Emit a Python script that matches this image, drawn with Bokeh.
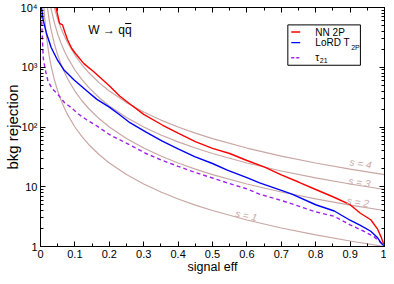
from bokeh.plotting import figure
from bokeh.models import LinearAxis, LogAxis, FixedTicker, LogTicker, CustomJSTickFormatter, NumeralTickFormatter
from bokeh.core.properties import value
from bokeh.embed import file_html
from bokeh.resources import INLINE

FONT = "Liberation Sans"

# ---- data ----
nn_eff = [0.045, 0.05, 0.055, 0.058, 0.064, 0.07, 0.078, 0.09, 0.1, 0.126, 0.154, 0.175, 0.2, 0.23,
          0.26, 0.3, 0.354, 0.4, 0.45, 0.5, 0.55, 0.6, 0.65, 0.7, 0.75, 0.8, 0.85, 0.9, 0.93, 0.96,
          0.98, 0.99, 1.0]
nn_rej = [10000, 7500, 5500, 5300, 5100, 4000, 2950, 2100, 1750, 1150, 850, 660, 490, 330,
          243, 163, 108, 79, 57, 44, 36, 27.5, 21.5, 15.8, 12, 9, 6.8, 5.0, 3.6, 2.8,
          1.95, 1.45, 1.0]

lord_eff = [0.003, 0.008, 0.017, 0.031, 0.05, 0.069, 0.097, 0.135, 0.163, 0.2, 0.23, 0.26, 0.307,
            0.354, 0.4, 0.448, 0.5, 0.543, 0.6, 0.637, 0.7, 0.731, 0.8, 0.854, 0.9, 0.93, 0.96,
            0.98, 0.99, 1.0]
lord_rej = [10000, 6100, 3750, 2140, 1300, 890, 620, 400, 293, 215, 160, 118, 82,
            58, 43, 32, 24.5, 19, 14.2, 11.6, 8.7, 7.5, 5.0, 3.93, 2.75, 2.25, 1.8,
            1.4, 1.15, 1.0]

tau_eff = [0.002, 0.005, 0.008, 0.015, 0.022, 0.035, 0.05, 0.07, 0.088, 0.11, 0.135, 0.163, 0.2,
           0.26, 0.307, 0.354, 0.4, 0.448, 0.5, 0.543, 0.6, 0.637, 0.7, 0.731, 0.8, 0.854, 0.9,
           0.94, 0.97, 0.99, 1.0]
tau_rej = [10000, 3500, 1400, 850, 580, 430, 354, 255, 214, 165, 131, 105, 75,
           50, 36, 27.6, 22, 17.5, 14, 11.6, 9.2, 7.5, 5.9, 5.16, 3.8, 3.2, 2.3,
           1.8, 1.45, 1.15, 1.0]

# iso-significance guide curves (s = 1..4)
guide_eff = [0.01, 0.012, 0.015, 0.02, 0.025, 0.03, 0.04, 0.05, 0.06, 0.07, 0.08, 0.1, 0.12, 0.14,
             0.17, 0.2, 0.25, 0.3, 0.35, 0.4, 0.45, 0.5, 0.6, 0.7, 0.8, 0.9, 1.0]
guide_s1 = [10000, 6944, 4444, 2500, 1600, 1111, 625, 400, 277.8, 204.1, 156.3, 100, 69.44, 51.02,
            34.6, 25, 16, 11.11, 8.163, 6.25, 4.938, 4, 2.778, 2.041, 1.563, 1.235, 1]
guide_s2 = [40000, 27778, 17778, 10000, 6400, 4444, 2500, 1600, 1111, 816.3, 625, 400, 277.8, 204.1,
            138.4, 100, 64, 44.44, 32.65, 25, 19.75, 16, 11.11, 8.163, 6.25, 4.938, 4]
guide_s3 = [90000, 62500, 40000, 22500, 14400, 10000, 5625, 3600, 2500, 1837, 1406, 900, 625, 459.2,
            311.4, 225, 144, 100, 73.47, 56.25, 44.44, 36, 25, 18.37, 14.06, 11.11, 9]
guide_s4 = [160000, 111111, 71111, 40000, 25600, 17778, 10000, 6400, 4444, 3265, 2500, 1600, 1111, 816.3,
            553.6, 400, 256, 177.8, 130.6, 100, 79.01, 64, 44.44, 32.65, 25, 19.75, 16]
guide_labels = ["s = 1", "s = 2", "s = 3", "s = 4"]

x_ticks = [0, 0.1, 0.2, 0.3, 0.4, 0.5, 0.6, 0.7, 0.8, 0.9, 1.0]
x_minor = [0.05, 0.15, 0.25, 0.35, 0.45, 0.55, 0.65, 0.75, 0.85, 0.95]

series_names = ["NN 2P", "LoRD T", "τ"]
title_text = "W → qq"

# ---- figure ----
p = figure(width=386, height=276, x_range=(0, 1), y_range=(1, 10000), y_axis_type="log",
           output_backend="svg", toolbar_location=None,
           min_border_left=37, min_border_right=2, min_border_top=7, min_border_bottom=29)
p.grid.visible = False
p.outline_line_color = "black"
p.outline_line_width = 1
p.background_fill_color = "white"

xax = p.xaxis[0]
yax = p.yaxis[0]

GRAY = "#c9a7a4"
for g in [guide_s1, guide_s2, guide_s3, guide_s4]:
    p.line(guide_eff, g, line_color=GRAY, line_width=1.2)

p.line(tau_eff, tau_rej, line_color="#a020f0", line_width=1.4, line_dash="4 3")
p.line(lord_eff, lord_rej, line_color="#0000ff", line_width=1.4)
p.line(nn_eff, nn_rej, line_color="#ff0000", line_width=1.4)

# guide labels
p.text(x=[0.598, 0.923, 0.927, 0.931], y=[3.3, 5.56, 11.9, 24.5], text=guide_labels,
       angle=[-0.22, -0.16, -0.16, -0.16], text_align="center", text_baseline="middle",
       text_color=GRAY, text_font=value(FONT), text_font_size="10px", text_font_style="italic")

# title text  (W -> q qbar; the bar drawn as a short stroke over the second q)
p.text(x=[0.139], y=[4140], text=[title_text], text_align="left", text_baseline="middle",
       text_color="black", text_font=value(FONT), text_font_size="12px")
p.segment(x0=[0.246], x1=[0.264], y0=[5400], y1=[5400], line_color="black", line_width=1)

# legend (drawn manually to allow subscripts)
p.quad(left=[0.719], right=[0.930], bottom=[1080], top=[5114], fill_color="white",
       line_color="black", line_width=1)
p.segment(x0=[0.729], x1=[0.755], y0=[3890], y1=[3890], line_color="#ff0000", line_width=1.4)
p.segment(x0=[0.729], x1=[0.755], y0=[2584], y1=[2584], line_color="#0000ff", line_width=1.4)
p.segment(x0=[0.729], x1=[0.755], y0=[1439], y1=[1439], line_color="#a020f0", line_width=1.4,
          line_dash="3 2")
p.text(x=[0.799, 0.799, 0.799], y=[3890, 2584, 1439], text=series_names, text_align="left",
       text_baseline="middle", text_color="black", text_font=value(FONT), text_font_size="10px")
p.text(x=[0.903, 0.812], y=[2144, 1290], text=["2P", "21"], text_align="left",
       text_baseline="middle", text_color="black", text_font=value(FONT), text_font_size="7px")

# axes
xax.ticker = FixedTicker(ticks=x_ticks, minor_ticks=x_minor)
xax.formatter = NumeralTickFormatter(format="0.[0]")
yax.ticker = LogTicker(num_minor_ticks=10)
yax.formatter = CustomJSTickFormatter(code="""
const m = {1: "1", 10: "10", 100: "10\u00b2", 1000: "10\u00b3", 10000: "10\u2074"};
const k = Math.round(tick);
return (k in m) ? m[k] : "";
""")
xax.axis_label = "signal eff"
yax.axis_label = "bkg rejection"

top = LinearAxis(ticker=FixedTicker(ticks=x_ticks, minor_ticks=x_minor),
                 formatter=CustomJSTickFormatter(code="return '';"))
right = LogAxis(ticker=LogTicker(num_minor_ticks=10), formatter=CustomJSTickFormatter(code="return '';"))
p.add_layout(top, "above")
p.add_layout(right, "right")

for ax in [xax, yax, top, right]:
    ax.major_tick_in = 5
    ax.major_tick_out = 0
    ax.minor_tick_in = 3
    ax.minor_tick_out = 0
    ax.axis_line_color = "black"
    ax.major_tick_line_color = "black"
    ax.minor_tick_line_color = "black"
    ax.major_label_standoff = 3
    ax.major_label_text_font = FONT
    ax.major_label_text_font_size = "11px"
    ax.major_label_text_color = "black"
    ax.axis_label_text_font = FONT
    ax.axis_label_text_font_style = "normal"
    ax.axis_label_text_color = "black"

xax.axis_label_text_font_size = "12.5px"
xax.axis_label_standoff = -1
yax.axis_label_text_font_size = "15px"
yax.axis_label_standoff = -3
top.major_label_standoff = 0
right.major_label_standoff = 0

open("out.html", "w").write(file_html(p, INLINE))
